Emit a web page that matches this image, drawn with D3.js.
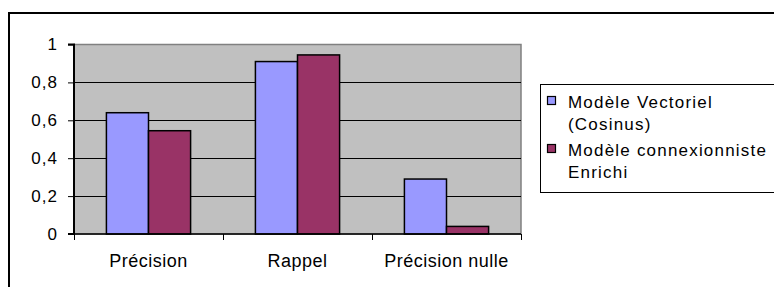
<!DOCTYPE html>
<html>
<head>
<meta charset="utf-8">
<script src="https://cdn.jsdelivr.net/npm/d3@7"></script>
<style>
  body { margin: 0; background: #fff; }
  svg { display: block; font-family: "Liberation Sans", Arial, sans-serif; }
</style>
</head>
<body>
<div id="chart"></div>
<script>
// Données
const categories = ['Précision', 'Rappel', 'Précision nulle'];
const seriesNames = ['Modèle Vectoriel (Cosinus)', 'Modèle connexionniste Enrichi'];
const vectoriel = [0.64, 0.91, 0.29];
const connexionniste = [0.545, 0.945, 0.04];
const yTicks = [0, 0.2, 0.4, 0.6, 0.8, 1];

const colors = ['#9999ff', '#993366'];
const legendLines = [['Modèle Vectoriel', '(Cosinus)'], ['Modèle connexionniste', 'Enrichi']];

const width = 774, height = 287;
const plot = { left: 74, right: 521, top: 44.5, bottom: 234 };

const svg = d3.select('#chart')
  .append('svg')
  .attr('width', width)
  .attr('height', height);

// Cadre extérieur
svg.append('rect')
  .attr('x', 9).attr('y', 13)
  .attr('width', 900).attr('height', 400)
  .attr('fill', '#fff')
  .attr('stroke', '#000')
  .attr('stroke-width', 2);

// Echelles
const x0 = d3.scaleBand()
  .domain(categories)
  .range([plot.left, plot.right]);

const x1 = d3.scaleBand()
  .domain(seriesNames)
  .range([0, x0.bandwidth()])
  .paddingOuter(0.77);

const y = d3.scaleLinear()
  .domain([0, 1])
  .range([plot.bottom, plot.top]);

const locale = d3.formatLocale({ decimal: ',', thousands: ' ', grouping: [3], currency: ['', ' €'] });
const fmt = locale.format('.1~f');

// Fond de la zone de tracé
svg.append('rect')
  .attr('x', plot.left).attr('y', plot.top)
  .attr('width', plot.right - plot.left)
  .attr('height', plot.bottom - plot.top)
  .attr('fill', '#c0c0c0')
  .attr('stroke', '#808080')
  .attr('stroke-width', 1.5);

// Quadrillage
svg.append('g')
  .selectAll('line')
  .data(yTicks.filter(d => d > 0 && d < 1))
  .enter()
  .append('line')
  .attr('x1', plot.left).attr('x2', plot.right)
  .attr('y1', d => Math.round(y(d)) + 0.5)
  .attr('y2', d => Math.round(y(d)) + 0.5)
  .attr('stroke', '#000')
  .attr('stroke-width', 1);

// Barres
const data = categories.map((c, i) => ({ cat: c, values: [vectoriel[i], connexionniste[i]] }));

svg.append('g')
  .selectAll('g')
  .data(data)
  .enter()
  .append('g')
  .attr('transform', d => `translate(${x0(d.cat)},0)`)
  .selectAll('rect')
  .data(d => d.values.map((v, j) => ({ name: seriesNames[j], value: v, color: colors[j] })))
  .enter()
  .append('rect')
  .attr('x', d => x1(d.name))
  .attr('y', d => y(d.value))
  .attr('width', x1.bandwidth())
  .attr('height', d => y(0) - y(d.value))
  .attr('fill', d => d.color)
  .attr('stroke', '#000')
  .attr('stroke-width', 1.5);

// Axe Y
const yAxis = d3.axisLeft(y)
  .tickValues(yTicks)
  .tickSize(6)
  .tickPadding(10)
  .tickFormat(fmt);

const gy = svg.append('g')
  .attr('transform', `translate(${plot.left},0)`)
  .call(yAxis);
gy.select('.domain').attr('stroke-width', 2).attr('d', `M-6,${plot.top}H0V${plot.bottom}H-6`);
gy.selectAll('text')
  .attr('font-size', 17)
  .attr('letter-spacing', 1)
  .attr('fill', '#000');

// Axe X
const xTickScale = d3.scalePoint()
  .domain(d3.range(categories.length + 1))
  .range([plot.left, plot.right]);

const gx = svg.append('g')
  .attr('transform', `translate(0,${plot.bottom})`)
  .call(d3.axisBottom(xTickScale).tickSize(6).tickFormat(''));
gx.select('.domain').attr('stroke-width', 1.5).attr('d', `M${plot.left},0H${plot.right}`);

svg.append('g')
  .selectAll('text')
  .data(categories)
  .enter()
  .append('text')
  .attr('x', d => x0(d) + x0.bandwidth() / 2)
  .attr('y', 267)
  .attr('text-anchor', 'middle')
  .attr('font-size', 18)
  .attr('letter-spacing', 0.5)
  .text(d => d);

// Légende
const legend = svg.append('g');

legend.append('rect')
  .attr('x', 540.5).attr('y', 84.5)
  .attr('width', 400).attr('height', 108)
  .attr('fill', '#fff')
  .attr('stroke', '#000');

legendLines.forEach((lines, i) => {
  const top = 96 + i * 48;
  legend.append('rect')
    .attr('x', 547.5).attr('y', top + 0.5)
    .attr('width', 8).attr('height', 8)
    .attr('fill', colors[i])
    .attr('stroke', '#000')
    .attr('stroke-width', 1.2);
  lines.forEach((t, k) => {
    legend.append('text')
      .attr('x', 568)
      .attr('y', top + 12 + k * 22)
      .attr('font-size', 17)
      .attr('letter-spacing', 1.2)
      .text(t);
  });
});
</script>
</body>
</html>
